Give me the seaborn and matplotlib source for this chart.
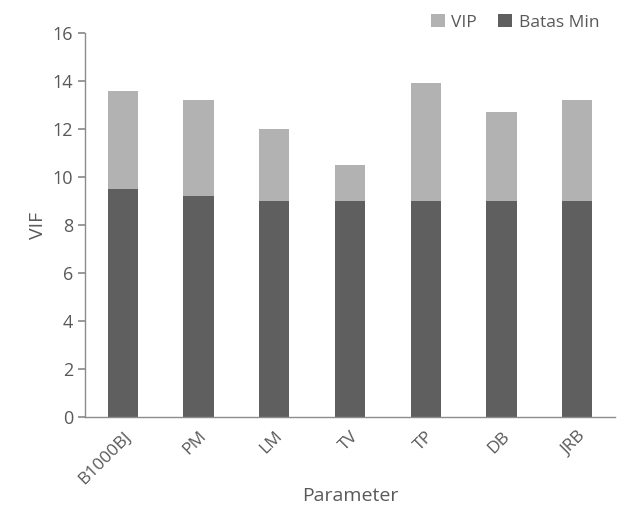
import pandas as pd
import matplotlib
matplotlib.use("Agg")
import matplotlib.pyplot as plt
import seaborn as sns

parameters = ["B1000BJ", "PM", "LM", "TV", "TP", "DB", "JRB"]
vip = [13.6, 13.2, 12.0, 10.5, 13.9, 12.7, 13.2]
batas_min = [9.5, 9.2, 9.0, 9.0, 9.0, 9.0, 9.0]

df = pd.DataFrame({"Parameter": parameters, "VIP": vip, "Batas Min": batas_min})

sns.set_theme(style="white")
plt.rcParams["font.family"] = ["Open Sans", "DejaVu Sans"]
text_color = "#595959"

fig = plt.figure(figsize=(6.25, 5.08), dpi=100)
ax = fig.add_axes([0.136, 0.179, 0.848, 0.756])

sns.barplot(data=df, x="Parameter", y="VIP", color="#b2b2b2", width=0.4,
            saturation=1, linewidth=0, ax=ax, label="VIP")
sns.barplot(data=df, x="Parameter", y="Batas Min", color="#5f5f5f", width=0.4,
            saturation=1, linewidth=0, ax=ax, label="Batas Min")

ax.set_ylim(0, 16)
ax.set_yticks(range(0, 17, 2))
ax.set_xlim(-0.5, 6.5)
ax.set_ylabel("VIF", fontsize=14, color=text_color)
ax.set_xlabel("Parameter", fontsize=14, color=text_color, labelpad=0)

ax.tick_params(axis="y", labelsize=13, labelcolor=text_color, left=True,
               length=5, color="#8c8c8c", direction="out")
ax.tick_params(axis="x", labelsize=12.5, labelcolor=text_color, bottom=False, pad=2)
plt.setp(ax.get_xticklabels(), rotation=45, ha="right", rotation_mode="anchor")

for s in ["top", "right"]:
    ax.spines[s].set_visible(False)
for s in ["left", "bottom"]:
    ax.spines[s].set_color("#8c8c8c")
    ax.spines[s].set_linewidth(1)

leg = ax.legend(loc="upper right", bbox_to_anchor=(1.0, 1.09), ncol=2, frameon=False,
                fontsize=12.5, handlelength=0.8, handleheight=0.8, handletextpad=0.4,
                columnspacing=1.2)
for t in leg.get_texts():
    t.set_color(text_color)

fig.savefig("out.png", dpi=100)
